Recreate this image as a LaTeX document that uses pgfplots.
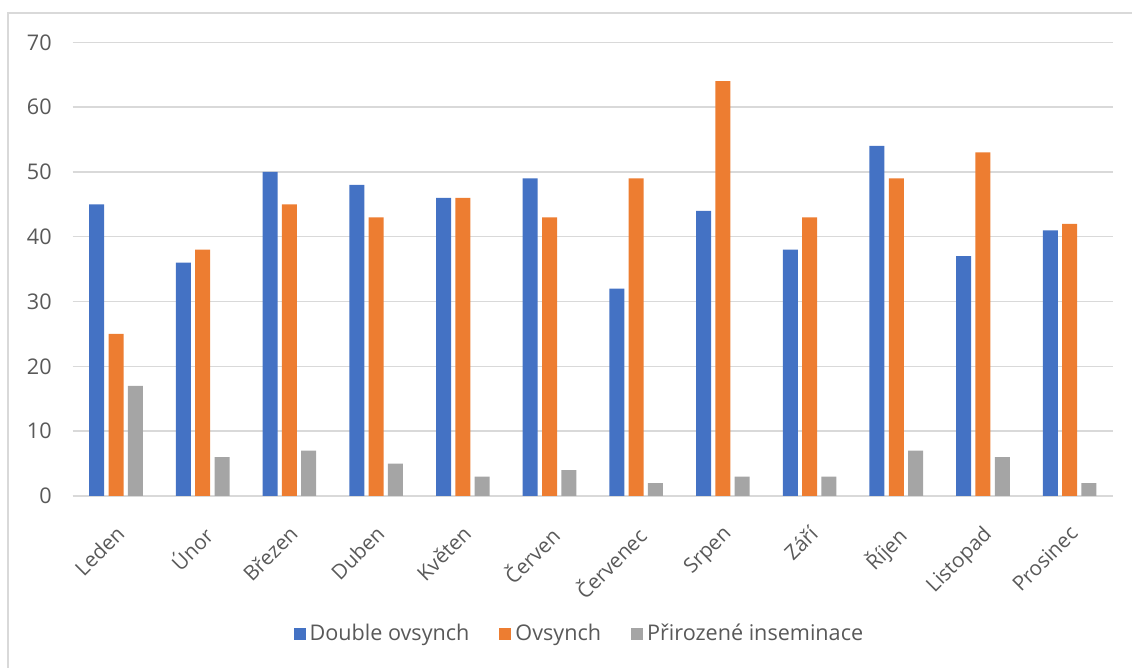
\documentclass[border=0pt]{standalone}
\usepackage{pgfplots}
\pgfplotsset{compat=1.18}
\usepackage{fontspec}
\setmainfont{Open Sans}
\definecolor{cblue}{HTML}{4472C4}
\definecolor{corange}{HTML}{ED7D31}
\definecolor{cgray}{HTML}{A5A5A5}
\definecolor{gridgray}{HTML}{D9D9D9}
\definecolor{textgray}{HTML}{595959}
\begin{document}
\begin{tikzpicture}[x=1pt,y=1pt]
\useasboundingbox (0,0) rectangle (566,334);
\draw[color=gridgray, line width=0.6pt] (4,-5) -- (4,327.5) -- (570,327.5);
\begin{axis}[
  at={(36.35pt,86pt)}, anchor=south west,
  width=520.15pt, height=226.85pt, scale only axis,
  xmin=-0.5, xmax=11.5, ymin=0, ymax=70,
  ytick={0,10,...,70},
  xtick={0,...,11},
  xticklabels={Leden,Únor,Březen,Duben,Květen,Červen,Červenec,Srpen,Září,Říjen,Listopad,Prosinec},
  ymajorgrids, grid style={color=gridgray, line width=0.75pt},
  axis x line*=bottom, axis y line*=left,
  y axis line style={draw=none},
  x axis line style={draw=gridgray, line width=0.75pt, -},
  tick style={draw=none},
  major tick length=0pt,
  font=\fontsize{10.8}{13}\selectfont,
  ticklabel style={text=textgray, font=\fontsize{10.8}{13}\selectfont},
  /pgf/number format/assume math mode=true,
  yticklabel style={anchor=east, xshift=-7pt},
  xticklabel style={rotate=45, anchor=north east, xshift=-7pt, yshift=-6pt, font=\fontsize{10.3}{12}\selectfont},
  ybar=2.15pt, bar width=7.5pt,
  legend style={at={(0.488,-0.304)}, anchor=center, draw=none, legend columns=3,
    font=\fontsize{10.8}{13}\selectfont, text=textgray,
    /tikz/every even column/.append style={column sep=13pt}},
  legend image code/.code={\fill[#1] (0pt,-3pt) rectangle (6pt,3pt);},
]
\addplot[fill=cblue, draw=none] coordinates {(0,45) (1,36) (2,50) (3,48) (4,46) (5,49) (6,32) (7,44) (8,38) (9,54) (10,37) (11,41)};
\addplot[fill=corange, draw=none] coordinates {(0,25) (1,38) (2,45) (3,43) (4,46) (5,43) (6,49) (7,64) (8,43) (9,49) (10,53) (11,42)};
\addplot[fill=cgray, draw=none] coordinates {(0,17) (1,6) (2,7) (3,5) (4,3) (5,4) (6,2) (7,3) (8,3) (9,7) (10,6) (11,2)};
\legend{Double ovsynch, Ovsynch, Přirozené inseminace}
\end{axis}
\end{tikzpicture}
\end{document}
